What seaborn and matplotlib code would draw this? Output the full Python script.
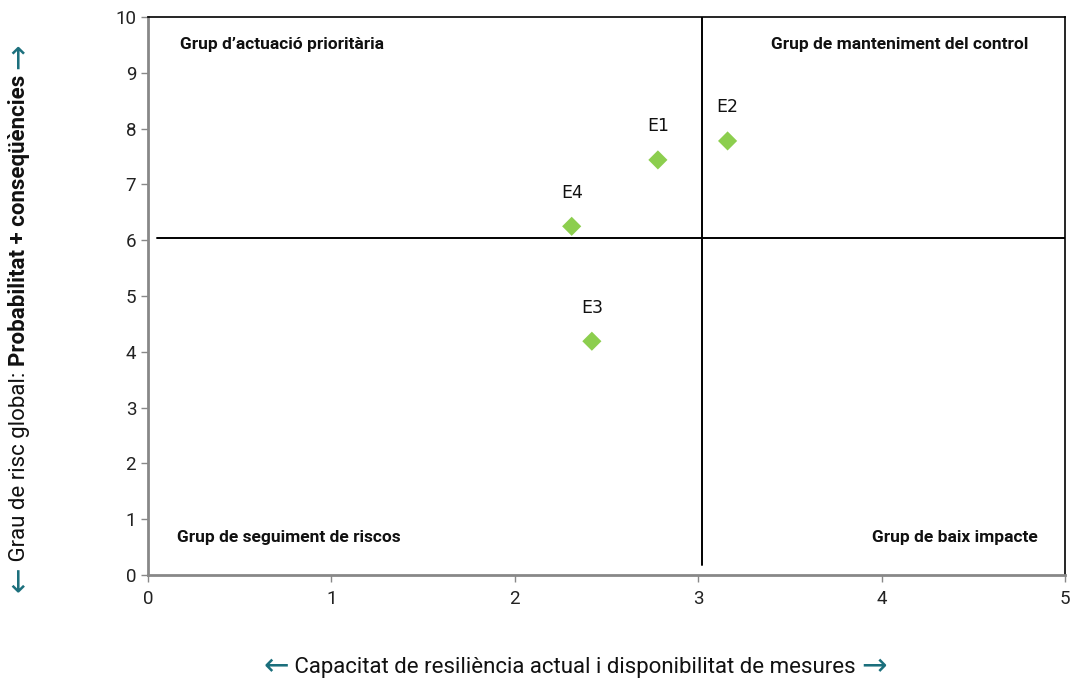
import matplotlib
matplotlib.use("Agg")
import matplotlib.pyplot as plt
import seaborn as sns
import pandas as pd

labels = ["E1", "E2", "E3", "E4"]
x_vals = [2.78, 3.16, 2.42, 2.31]
y_vals = [7.44, 7.78, 4.19, 6.25]
x_split = 3.02
y_split = 6.04
quadrants = ["Grup d\u2019actuació prioritària", "Grup de manteniment del control",
             "Grup de seguiment de riscos", "Grup de baix impacte"]

sns.set_style("white")
plt.rcParams['font.family'] = ['Roboto', 'DejaVu Sans']

df = pd.DataFrame({"x": x_vals, "y": y_vals, "label": labels})

fig = plt.figure(figsize=(10.78, 6.84), dpi=100)
ax = fig.add_axes([0.1373, 0.1594, 0.988 - 0.1373, 0.975 - 0.1594])

sns.scatterplot(data=df, x="x", y="y", marker="D", s=95, color="#8cce4e",
                edgecolor="none", ax=ax, zorder=3)
for _, r in df.iterrows():
    ax.text(r.x, r.y + 0.6, r.label, ha="center", va="center", fontsize=12.5,
            family=["DejaVu Sans"], color="#111111")

ax.axvline(x_split, ymin=0.018, ymax=1.0, color="black", lw=1.4, zorder=2)
ax.axhline(y_split, xmin=0.01, xmax=1.0, color="black", lw=1.4, zorder=2)

ax.set_xlim(0, 5)
ax.set_ylim(0, 10)
ax.set_xticks(range(6))
ax.set_yticks(range(11))
ax.tick_params(axis="both", labelsize=13.5, length=5, width=1, direction="out")
ax.tick_params(axis="x", pad=6, colors="#888888", labelcolor="#222222")
ax.tick_params(axis="y", colors="#888888", labelcolor="#222222")
ax.xaxis.set_ticks_position("bottom")
ax.yaxis.set_ticks_position("left")
for s in ["left", "bottom"]:
    ax.spines[s].set_color("#888888")
    ax.spines[s].set_linewidth(2)
for s in ["top", "right"]:
    ax.spines[s].set_color("black")
    ax.spines[s].set_linewidth(1.2)
ax.set_xlabel("")
ax.set_ylabel("")

qkw = dict(fontsize=12.5, fontweight="bold", color="#111111", va="center")
ax.text(0.175, 9.5, quadrants[0], ha="left", **qkw)
ax.text(4.80, 9.5, quadrants[1], ha="right", **qkw)
ax.text(0.16, 0.68, quadrants[2], ha="left", **qkw)
ax.text(4.85, 0.68, quadrants[3], ha="right", **qkw)

teal = "#1b6f7c"
fig.canvas.draw()
renderer = fig.canvas.get_renderer()

arr = ["DejaVu Sans"]
txt = ["Roboto", "DejaVu Sans"]


def make_parts(parts, xc, yc, rot):
    objs = []
    for t, col, wt, fam, fs in parts:
        objs.append(fig.text(xc, yc, t, color=col, fontweight=wt, fontsize=fs,
                             family=fam, ha="left", va="center",
                             rotation=rot, rotation_mode="anchor"))
    return objs


def hparts(parts, xc, yc):
    objs = make_parts(parts, xc, yc, 0)
    widths = [o.get_window_extent(renderer).width / fig.bbox.width for o in objs]
    x = xc - sum(widths) / 2
    for o, w in zip(objs, widths):
        o.set_x(x)
        x += w


def vparts(parts, xc, yc):
    objs = make_parts(parts, xc, yc, 90)
    hs = [o.get_window_extent(renderer).height / fig.bbox.height for o in objs]
    y = yc - sum(hs) / 2
    for o, h in zip(objs, hs):
        o.set_y(y)
        y += h


hparts([("\u2190", teal, "normal", arr, 22),
        (" Capacitat de resiliència actual i disponibilitat de mesures ", "#111111", "normal", txt, 16),
        ("\u2192", teal, "normal", arr, 22)], 575 / 1078, 1 - 667 / 684)
vparts([("\u2190", teal, "normal", arr, 22),
        (" Grau de risc global: ", "#111111", "normal", txt, 16),
        ("Probabilitat + conseqüències ", "#111111", "bold", txt, 16),
        ("\u2192", teal, "normal", arr, 22)], 19 / 1078, 1 - 318 / 684)

fig.savefig("out.png", dpi=100)
